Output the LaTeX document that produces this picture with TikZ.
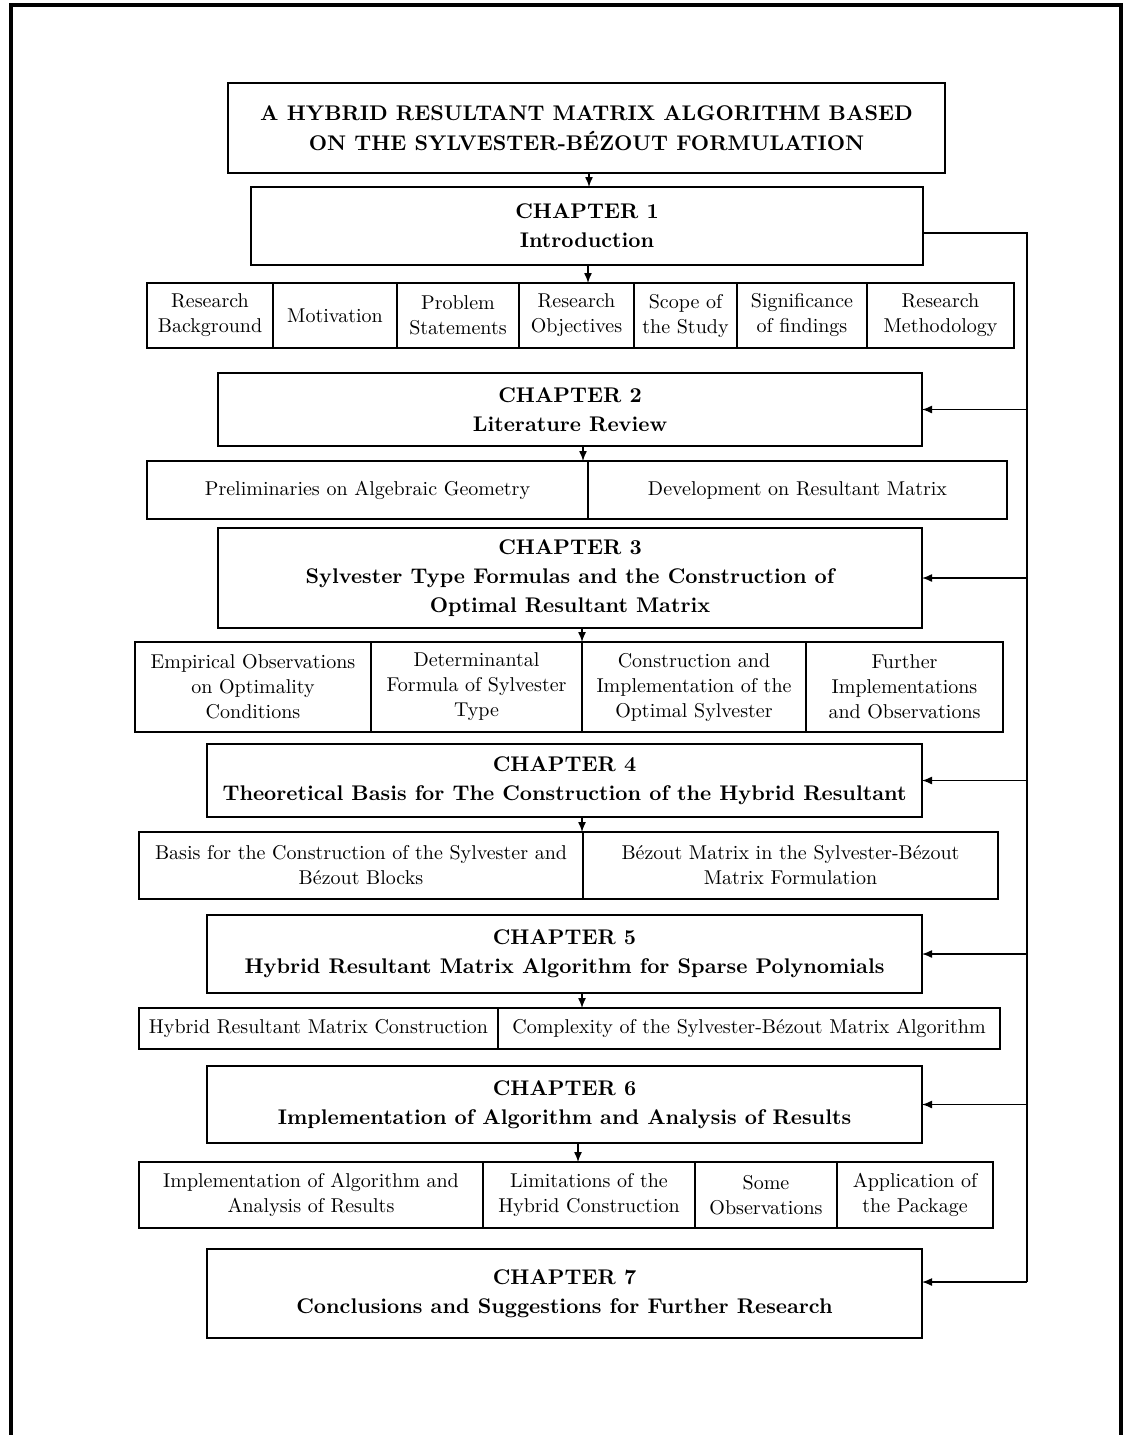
\documentclass[tikz,border=0pt]{standalone}
\usetikzlibrary{positioning,arrows.meta}
\begin{document}
\begin{tikzpicture}[x=0.5pt, y=-0.5pt, line width=0.7pt]
\tikzstyle{chapter} = [rectangle, draw, align=center, inner sep=2pt, outer sep=0pt,
                       font=\fontsize{10.6}{14.5}\selectfont\bfseries]
\tikzstyle{cell} = [rectangle, draw, align=center, inner sep=2pt, outer sep=0pt,
                    font=\fontsize{10}{12.5}\selectfont]
\tikzstyle{line} = [draw, -{Latex[length=5pt,width=4pt]}]

\useasboundingbox (0,0) rectangle (1125,1435);
\draw [line width=2pt] (11,1435) -- (11,5) -- (1121,5) -- (1121,1435);

\node [chapter, minimum width=358.5pt, minimum height=45pt, font=\fontsize{10.6}{15}\selectfont\bfseries] (title) at (586.5,128) {A HYBRID RESULTANT MATRIX ALGORITHM BASED\\ON THE SYLVESTER-BÉZOUT FORMULATION};

% chapter 1
\node [chapter, minimum width=336pt, minimum height=39pt] (ch1) at (587,226) {CHAPTER 1\\Introduction};
\node [cell, minimum width=63pt, minimum height=32.5pt, anchor=north west] (background) at (147,283) {Research\\Background};
\node [cell, minimum width=62pt, minimum height=32.5pt, right=0pt of background] (motivation) {Motivation};
\node [cell, minimum width=61pt, minimum height=32.5pt, right=0pt of motivation] (problem) {Problem\\Statements};
\node [cell, minimum width=57.5pt, minimum height=32.5pt, right=0pt of problem] (objectives) {Research\\Objectives};
\node [cell, minimum width=51.5pt, minimum height=32.5pt, right=0pt of objectives] (scope) {Scope of\\the Study};
\node [cell, minimum width=65pt, minimum height=32.5pt, right=0pt of scope] (significance) {Significance\\of findings};
\node [cell, minimum width=73.5pt, minimum height=32.5pt, right=0pt of significance] (methodology) {Research\\Methodology};

% chapter 2
\node [chapter, minimum width=352pt, minimum height=36.5pt] (ch2) at (570,409.5) {CHAPTER 2\\Literature Review};
\node [cell, minimum width=220.5pt, minimum height=29pt, anchor=north west] (prelim) at (147,461) {Preliminaries on Algebraic Geometry};
\node [cell, minimum width=209.5pt, minimum height=29pt, right=0pt of prelim] (development) {Development on Resultant Matrix};

% chapter 3
\node [chapter, minimum width=352pt, minimum height=50pt] (ch3) at (570,578) {CHAPTER 3\\Sylvester Type Formulas and the Construction of\\Optimal Resultant Matrix};
\node [cell, minimum width=118pt, minimum height=45pt, anchor=north west] (empirical) at (135,642) {Empirical Observations\\on Optimality\\Conditions};
\node [cell, minimum width=105.5pt, minimum height=45pt, right=0pt of empirical] (determinantal) {Determinantal\\Formula of Sylvester\\Type};
\node [cell, minimum width=112pt, minimum height=45pt, right=0pt of determinantal] (optimal) {Construction and\\Implementation of the\\Optimal Sylvester};
\node [cell, minimum width=98.5pt, minimum height=45pt, right=0pt of optimal] (further) {Further\\Implementations\\and Observations};

% chapter 4
\node [chapter, minimum width=357.5pt, minimum height=36.5pt] (ch4) at (564.5,780.5) {CHAPTER 4\\Theoretical Basis for The Construction of the Hybrid Resultant};
\node [cell, minimum width=222pt, minimum height=33.5pt, anchor=north west] (blocks) at (139,832) {Basis for the Construction of the Sylvester and\\Bézout Blocks};
\node [cell, minimum width=207.5pt, minimum height=33.5pt, right=0pt of blocks] (bezout) {Bézout Matrix in the Sylvester-Bézout\\Matrix Formulation};

% chapter 5
\node [chapter, minimum width=357.5pt, minimum height=39pt] (ch5) at (564.5,954) {CHAPTER 5\\Hybrid Resultant Matrix Algorithm for Sparse Polynomials};
\node [cell, minimum width=179.5pt, minimum height=20.5pt, anchor=north west] (hybrid) at (139,1008) {Hybrid Resultant Matrix Construction};
\node [cell, minimum width=251pt, minimum height=20.5pt, right=0pt of hybrid] (complexity) {Complexity of the Sylvester-Bézout Matrix Algorithm};

% chapter 6
\node [chapter, minimum width=357.5pt, minimum height=38.5pt] (ch6) at (564.5,1104.5) {CHAPTER 6\\Implementation of Algorithm and Analysis of Results};
\node [cell, minimum width=172pt, minimum height=33pt, anchor=north west] (analysis) at (139,1162) {Implementation of Algorithm and\\Analysis of Results};
\node [cell, minimum width=106pt, minimum height=33pt, right=0pt of analysis] (limitations) {Limitations of the\\Hybrid Construction};
\node [cell, minimum width=71pt, minimum height=33pt, right=0pt of limitations] (observations) {Some\\Observations};
\node [cell, minimum width=78pt, minimum height=33pt, right=0pt of observations] (package) {Application of\\the Package};

% chapter 7
\node [chapter, minimum width=357.5pt, minimum height=44.5pt] (ch7) at (564.5,1293.5) {CHAPTER 7\\Conclusions and Suggestions for Further Research};

% downward arrows
\path [line] (title.south -| 589,0) -- (ch1.north -| 589,0);
\path [line] (ch1.south -| 588,0) -- (objectives.north -| 588,0);
\path [line] (ch2.south -| 583,0) -- (prelim.north -| 583,0);
\path [line] (ch3.south -| 582,0) -- (empirical.north -| 582,0);
\path [line] (ch4.south -| 582,0) -- (blocks.north -| 582,0);
\path [line] (ch5.south -| 582,0) -- (complexity.north -| 582,0);
\path [line] (ch6.south -| 578,0) -- (analysis.north -| 578,0);

% feedback line
\coordinate (fb) at (1027,233);
\coordinate (fbend) at (1027,1282);
\draw ([yshift=-3.5pt]ch1.east) -- (fb) -- (fbend);
\path [line] (fb |- ch2.east) -- (ch2.east);
\path [line] (fb |- ch3.east) -- (ch3.east);
\path [line] (fb |- ch4.east) -- (ch4.east);
\path [line] (fb |- ch5.east) -- (ch5.east);
\path [line] (fb |- ch6.east) -- (ch6.east);
\path [line] (fbend) -- (fbend -| ch7.east);
\end{tikzpicture}
\end{document}
